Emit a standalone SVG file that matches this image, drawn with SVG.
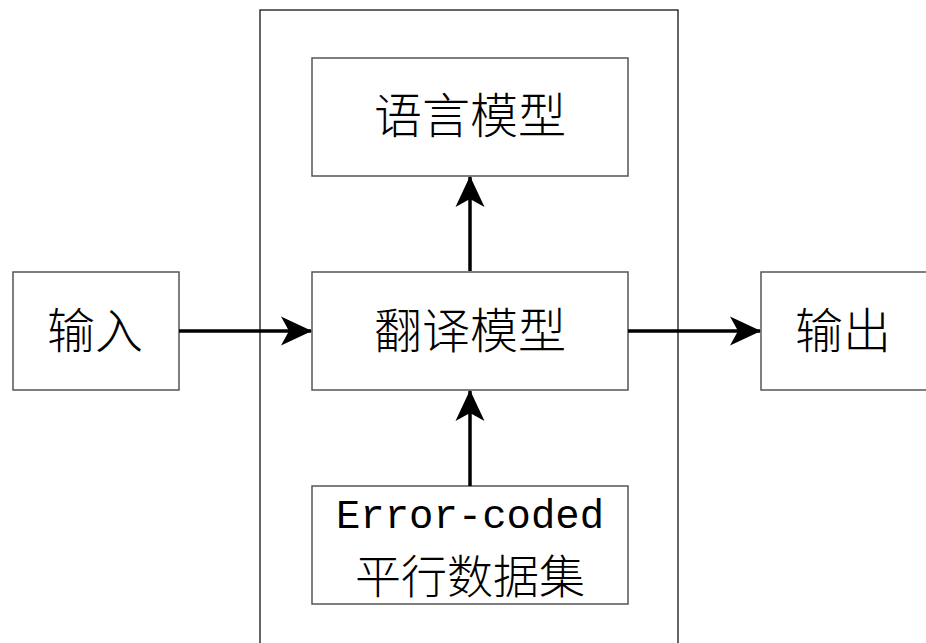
<svg xmlns="http://www.w3.org/2000/svg" width="926" height="643" viewBox="0 0 926 643">
<style>
.box{fill:#fff;stroke:#555;stroke-width:1.5}
.outer{fill:none;stroke:#000;stroke-width:1.2}
.cn{font-family:"Noto Sans CJK SC",sans-serif;font-size:48px;fill:#000;text-anchor:middle;font-weight:300}
.en{font-family:"Liberation Mono",monospace;font-size:40px;fill:#000;text-anchor:middle}
.conn{stroke:#000;stroke-width:3.5;fill:none;marker-end:url(#ah)}
</style>
<defs>
<marker id="ah" markerUnits="userSpaceOnUse" markerWidth="32" markerHeight="32" viewBox="-31 -16 32 32" refX="0" refY="0" orient="auto">
<path d="M1,0 L-30,-14.5 L-22,0 L-30,14.5 Z" fill="#000"/>
</marker>
</defs>
<rect id="outer" class="outer" x="260" y="10" width="418" height="660"/>
<g id="input"><rect class="box" x="13" y="272" width="166" height="118"/><text class="cn" x="95" y="348">输入</text></g>
<g id="output"><rect class="box" x="761" y="272" width="170" height="118"/><text class="cn" x="843" y="348">输出</text></g>
<g id="lang"><rect class="box" x="312" y="58" width="316" height="118"/><text class="cn" x="470" y="133">语言模型</text></g>
<g id="trans"><rect class="box" x="312" y="272" width="316" height="118"/><text class="cn" x="470" y="348">翻译模型</text></g>
<g id="data"><rect class="box" x="312" y="486" width="316" height="118"/><text class="en" x="470" y="528" textLength="268" lengthAdjust="spacingAndGlyphs">Error-coded</text><text class="cn" x="470" y="593" style="font-size:46px">平行数据集</text></g>
<g id="connectors">
<line class="conn" x1="179" y1="331" x2="311" y2="331"/>
<line class="conn" x1="628" y1="331" x2="760" y2="331"/>
<line class="conn" x1="470" y1="271" x2="470" y2="177"/>
<line class="conn" x1="470" y1="486" x2="470" y2="391"/>
</g>
</svg>
